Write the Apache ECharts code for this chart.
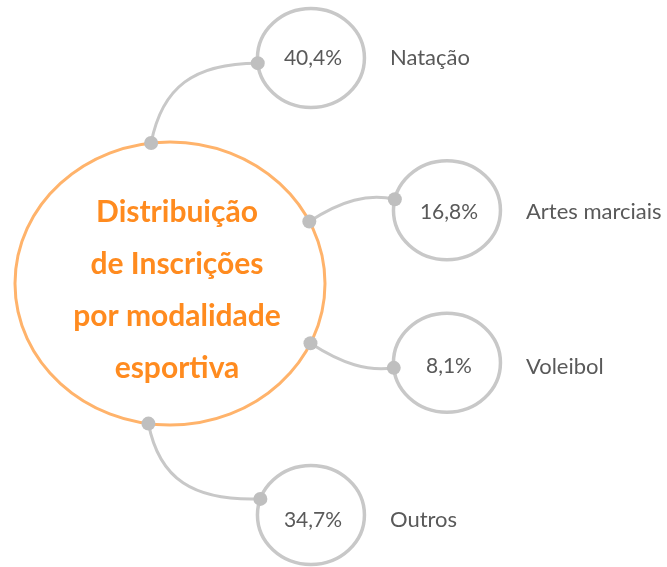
<!DOCTYPE html>
<html>
<head>
<meta charset="utf-8">
<script src="https://cdn.jsdelivr.net/npm/echarts@6/dist/echarts.min.js"></script>
<style>
    html, body { margin: 0; padding: 0; background: #fff; }
    #main { width: 667px; height: 567px; }
</style>
</head>
<body>
<div id="main"></div>
<script>
var title = 'Distribuição\nde Inscrições\npor modalidade\nesportiva'
var categories = ['Natação', 'Artes marciais', 'Voleibol', 'Outros']
var shares = [40.4, 16.8, 8.1, 34.7]

// layout only: hub ellipse, the orbit the bubbles sit on, where connectors attach
var hub = {cx: 170, dy: -3, rx: 155, ry: 141.5}
var orbit = {a: 289.5, b: 261.6}
var bubble = {rx: 53.5, ry: 49.5}
var hubAnchor = [-97, -26, 25, 98]      // where the link leaves the hub
var leaveAngle = [-79, -33, 33, 79]     // its heading there
var nodeAnchor = [174, -167, 174, -161] // where it meets the bubble
var arriveAngle = [180, -168, 172, 178] // heading it comes from
var labelShift = [0, 2, 4, 5]
var tension = 0.7

var gray = '#c8c8c8'
var dotGray = '#bfbfbf'
var textGray = '#595959'
var orange = '#ff8b1f'
var orangeLine = '#ffb36b'
var font = 'Lato, "Noto Sans", sans-serif'

function rad(d) { return d * Math.PI / 180 }

function frame(api) {
    var first = api.coord([0, 0])[1]
    var last = api.coord([0, categories.length - 1])[1]
    var midY = (first + last) / 2
    return {hx: api.coord([hub.cx, 0])[0], hy: midY + hub.dy, midY: midY}
}

function fmt(v) {
    return v.toFixed(1).replace('.', ',') + '%'
}

// corner where the two tangent rays meet
function corner(p0, d0, p3, d3) {
    var det = d0[0] * (-d3[1]) - d0[1] * (-d3[0])
    var rx = p3[0] - p0[0], ry = p3[1] - p0[1]
    var a = (rx * (-d3[1]) - ry * (-d3[0])) / det
    return [p0[0] + d0[0] * a, p0[1] + d0[1] * a]
}

function renderHub(params, api) {
    var f = frame(api)
    return {
        type: 'group',
        children: [
            {
                type: 'ellipse',
                shape: {cx: f.hx, cy: f.hy, rx: hub.rx, ry: hub.ry},
                style: {fill: '#fff', stroke: orangeLine, lineWidth: 3}
            },
            {
                type: 'text',
                x: f.hx + 7,
                y: f.hy + 7,
                style: {
                    text: title,
                    fill: orange,
                    font: 'bold 30px ' + font,
                    lineHeight: 52,
                    align: 'center',
                    verticalAlign: 'middle'
                }
            }
        ]
    }
}

function renderNode(params, api) {
    var pct = api.value(0)
    var i = api.value(1)
    var f = frame(api)
    var y = api.coord([0, i])[1]
    var k = (y - f.midY) / orbit.b
    var x = f.hx + orbit.a * Math.sqrt(Math.max(0, 1 - k * k))

    var t = rad(hubAnchor[i])
    var p0 = [f.hx + hub.rx * Math.cos(t), f.hy + hub.ry * Math.sin(t)]
    var d0 = [Math.cos(rad(leaveAngle[i])), Math.sin(rad(leaveAngle[i]))]

    var s = rad(nodeAnchor[i])
    var p3 = [x + bubble.rx * Math.cos(s), y + bubble.ry * Math.sin(s)]
    var d3 = [Math.cos(rad(arriveAngle[i])), Math.sin(rad(arriveAngle[i]))]

    var c = corner(p0, d0, p3, d3)
    var cp1 = [p0[0] + (c[0] - p0[0]) * tension, p0[1] + (c[1] - p0[1]) * tension]
    var cp2 = [p3[0] + (c[0] - p3[0]) * tension, p3[1] + (c[1] - p3[1]) * tension]

    var text = {fill: textGray, verticalAlign: 'middle'}

    return {
        type: 'group',
        children: [
            {
                type: 'bezierCurve',
                shape: {
                    x1: p0[0], y1: p0[1],
                    cpx1: cp1[0], cpy1: cp1[1],
                    cpx2: cp2[0], cpy2: cp2[1],
                    x2: p3[0], y2: p3[1]
                },
                style: {fill: null, stroke: gray, lineWidth: 3}
            },
            {
                type: 'ellipse',
                shape: {cx: x, cy: y, rx: bubble.rx, ry: bubble.ry},
                style: {fill: '#fff', stroke: gray, lineWidth: 3.5}
            },
            {
                type: 'circle',
                shape: {cx: p0[0], cy: p0[1], r: 7},
                style: {fill: dotGray}
            },
            {
                type: 'circle',
                shape: {cx: p3[0], cy: p3[1], r: 7},
                style: {fill: dotGray}
            },
            {
                type: 'text',
                x: x + 2,
                y: y + labelShift[i],
                style: Object.assign({text: fmt(pct), font: '21px ' + font, align: 'center'}, text)
            },
            {
                type: 'text',
                x: x + 79,
                y: y + labelShift[i],
                style: Object.assign({text: categories[i], font: '22px ' + font, align: 'left'}, text)
            }
        ]
    }
}

var chart = echarts.init(document.getElementById('main'))

chart.setOption({
    animation: false,
    grid: {left: 0, right: 0, top: 58, bottom: 52},
    xAxis: {type: 'value', min: 0, max: 667, show: false},
    yAxis: {type: 'category', data: categories, inverse: true, boundaryGap: false, show: false},
    series: [
        {
            type: 'custom',
            renderItem: renderHub,
            data: [[0, 0]],
            encode: {x: 0, y: 1},
            silent: true
        },
        {
            type: 'custom',
            renderItem: renderNode,
            data: shares.map(function (v, i) { return [v, i] }),
            encode: {x: 0, y: 1},
            silent: true
        }
    ]
})
</script>
</body>
</html>
